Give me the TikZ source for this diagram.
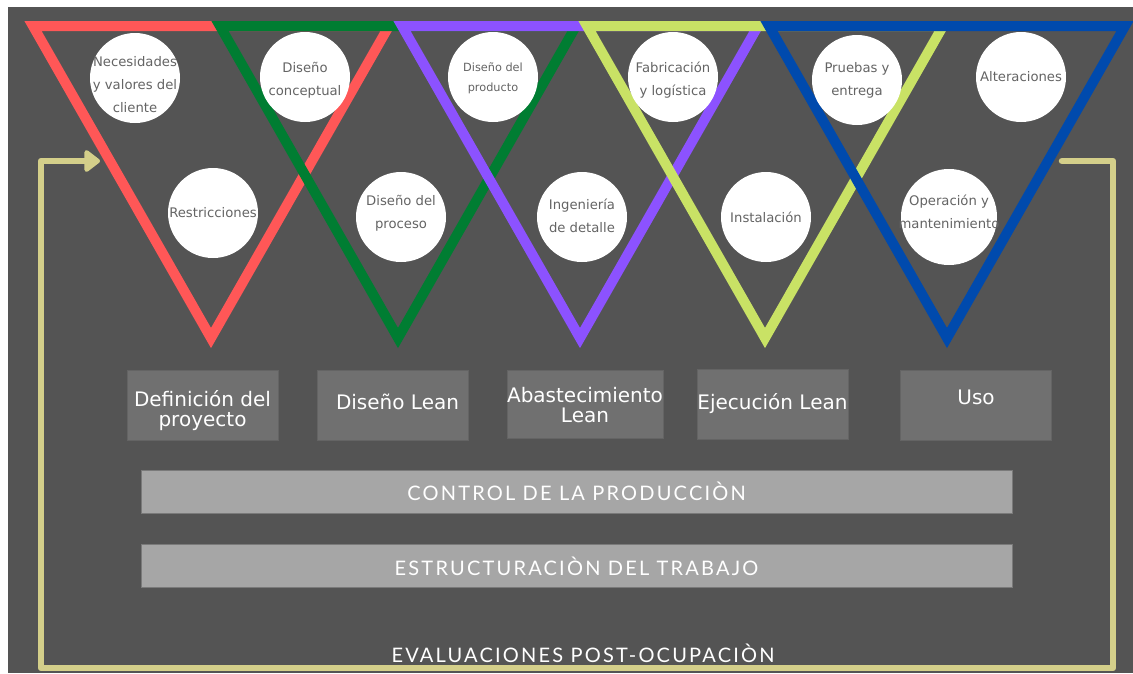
\documentclass[tikz,border=0pt]{standalone}
\usepackage{fontspec}
\setmainfont{DejaVu Sans}
\newfontfamily\capsfont[LetterSpace=11]{Lato}
\usetikzlibrary{arrows.meta}

\definecolor{bg}{RGB}{84,84,84}
\definecolor{tred}{RGB}{255,87,87}
\definecolor{tgreen}{RGB}{0,125,50}
\definecolor{tpurple}{RGB}{140,82,255}
\definecolor{tlime}{RGB}{201,226,101}
\definecolor{tblue}{RGB}{0,74,173}
\definecolor{loopcol}{RGB}{212,207,138}
\definecolor{phasefill}{RGB}{112,112,112}
\definecolor{phaseedge}{RGB}{100,100,100}
\definecolor{barfill}{RGB}{166,166,166}
\definecolor{baredge}{RGB}{122,122,122}
\definecolor{bubbletext}{RGB}{100,100,100}

% move text up (or down) by #1 without changing the box it occupies
\newcommand{\nudge}[2]{\raisebox{#1}[\height][\depth]{#2}}
% centred stack of lines, moved by #1
\newcommand{\stack}[2]{\nudge{#1}{\begin{tabular}{@{}c@{}}#2\end{tabular}}}
% centred stack of lines that takes no room, so the circle keeps its size
\newcommand{\inbubble}[2]{\raisebox{#1}[0pt][0pt]{\makebox[0pt]{\begin{tabular}{@{}c@{}}#2\end{tabular}}}}

\begin{document}
\begin{tikzpicture}[x=1pt,y=-1pt,
  vtri/.style={line width=10pt, miter limit=10, line join=miter},
  bubble/.style={circle, fill=white, minimum size=90pt, inner sep=0pt,
    text=bubbletext, align=center, font=\fontsize{13.2}{23}\selectfont},
  phase/.style={rectangle, fill=phasefill, draw=phaseedge, line width=1pt,
    minimum width=151pt, minimum height=70pt, inner sep=0pt,
    text=white, align=center, font=\fontsize{20}{19}\selectfont},
  band/.style={rectangle, fill=barfill, draw=baredge, line width=1pt,
    minimum width=871pt, minimum height=43pt, inner sep=0pt,
    text=white, font=\capsfont\fontsize{20}{20}\selectfont},
  loopline/.style={draw=loopcol, line width=6.5pt, line cap=round, line join=round}]

% canvas
\useasboundingbox (0,0) rectangle (1133,673);
\fill[white] (0,0) rectangle (1133,673);
\fill[bg] (8,7) rectangle (1133,673);

% overlapping inverted triangles, one per phase
\foreach \cx/\col in {211/tred,398/tgreen,580/tpurple,765/tlime,947/tblue}
  \draw[vtri,\col] (\cx-178,26) -- (\cx,338) -- (\cx+178,26) -- cycle;

% activity bubbles
\node[bubble] (needs)   at (135,78)  {\inbubble{-10.3pt}{Necesidades\\y valores del\\cliente}};
\node[bubble] (concept) at (305,77)  {\inbubble{-5.8pt}{Diseño\\conceptual}};
\node[bubble] (restr)   at (213,213) {Restricciones};
\node[bubble] (proc)    at (401,217) {\inbubble{1.2pt}{Diseño del\\proceso}};
\node[bubble, font=\fontsize{11.3}{20}\selectfont] (prod) at (493,77) {\inbubble{-2.9pt}{Diseño del\\producto}};
\node[bubble] (fab)     at (673,77)  {\inbubble{-5.8pt}{Fabricación\\y logística}};
\node[bubble] (ing)     at (582,217) {\inbubble{-2.8pt}{Ingeniería\\de detalle}};
\node[bubble] (inst)    at (766,217) {Instalación};
\node[bubble] (test)    at (857,80)  {\inbubble{-2.8pt}{Pruebas y\\entrega}};
\node[bubble] (alt)     at (1021,77) {Alteraciones};
\node[bubble, minimum size=96pt] (ops) at (949,217) {\inbubble{1.2pt}{Operación y\\mantenimiento}};

% phase boxes
\node[phase] (def)   at (202.5,405) {\stack{-6pt}{Definición del\\proyecto}};
\node[phase] (lean)  at (392.5,405) {\hspace*{10pt}\nudge{3pt}{Diseño Lean}};
\node[phase, minimum width=156pt, minimum height=68pt] (abast) at (585,404) {\stack{-4pt}{Abastecimiento\\Lean}};
\node[phase] (exec)  at (772.5,404) {Ejecución Lean};
\node[phase] (use)   at (976,405)   {\nudge{8pt}{Uso}};

% supporting bands
\node[band] (ctrl)   at (576.5,491.5) {CONTROL DE LA PRODUCCIÒN};
\node[band] (struct) at (576.5,566)   {ESTRUCTURACIÒN DEL TRABAJO};
\node[text=white, font=\capsfont\fontsize{20}{20}\selectfont] (poe) at (583,653) {EVALUACIONES POST-OCUPACIÒN};

% feedback loop
\coordinate (loopstart) at (1062,161);
\coordinate (cornerNE)  at (1113,161);
\coordinate (cornerSE)  at (1113,668);
\coordinate (cornerSW)  at (41,668);
\coordinate (cornerNW)  at (41,161);
\coordinate (loopend)   at (100,161);
\draw[loopline, -{Triangle[length=17pt,width=25pt,round]}]
  (loopstart) -- (cornerNE) -- (cornerSE) -- (cornerSW) -- (cornerNW) -- (loopend);
\end{tikzpicture}
\end{document}
